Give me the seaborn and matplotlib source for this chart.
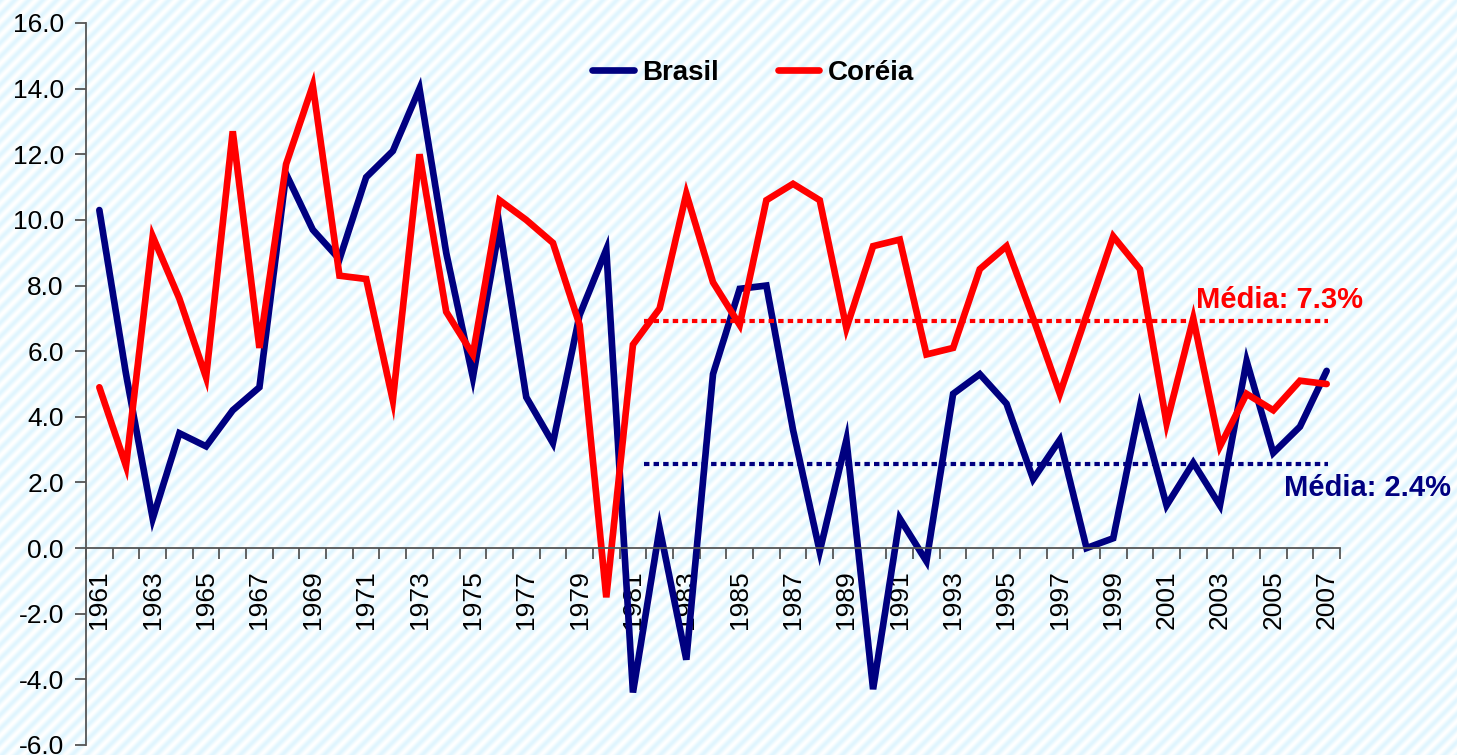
import numpy as np
import pandas as pd
import matplotlib
matplotlib.use('Agg')
import matplotlib.pyplot as plt
import seaborn as sns
from matplotlib.ticker import FixedLocator, FormatStrFormatter

anos = list(range(1961, 2008))
brasil = [10.3, 5.3, 0.9, 3.5, 3.1, 4.2, 4.9, 11.4, 9.7, 8.8, 11.3, 12.1, 14.0, 9.0, 5.2,
          9.8, 4.6, 3.2, 7.1, 9.1, -4.4, 0.6, -3.4, 5.3, 7.9, 8.0, 3.6, -0.1, 3.3, -4.3,
          0.9, -0.4, 4.7, 5.3, 4.4, 2.1, 3.3, 0.0, 0.3, 4.3, 1.3, 2.6, 1.3, 5.7, 2.9, 3.7, 5.4]
coreia = [4.9, 2.5, 9.5, 7.6, 5.2, 12.7, 6.1, 11.7, 14.1, 8.3, 8.2, 4.5, 12.0, 7.2, 5.9,
          10.6, 10.0, 9.3, 6.8, -1.5, 6.2, 7.3, 10.8, 8.1, 6.8, 10.6, 11.1, 10.6, 6.7, 9.2,
          9.4, 5.9, 6.1, 8.5, 9.2, 7.0, 4.7, 7.1, 9.5, 8.5, 3.8, 7.0, 3.1, 4.7, 4.2, 5.1, 5.0]
paises = ['Brasil', 'Coréia']
cores = {'Brasil': '#000080', 'Coréia': '#FF0000'}

# linhas de média (posição desenhada e rótulo)
media_brasil = 2.56
media_coreia = 6.92
rotulo_brasil = 'Média: 2.4%'
rotulo_coreia = 'Média: 7.3%'
media_inicio, media_fim = 1981.4, 2007.05

df = pd.DataFrame({
    'ano': anos * 2,
    'valor': brasil + coreia,
    'pais': ['Brasil'] * len(anos) + ['Coréia'] * len(anos),
})

sns.set_style('white')
plt.rcParams['font.family'] = ['Liberation Sans', 'DejaVu Sans']
plt.rcParams['text.color'] = 'black'
plt.rcParams['xtick.color'] = 'black'
plt.rcParams['ytick.color'] = 'black'

fig = plt.figure(figsize=(14.57, 7.55), dpi=100)

# fundo listrado
bg = fig.add_axes([0, 0, 1, 1], zorder=-10)
h, w = 755, 1457
yy, xx = np.mgrid[0:h, 0:w]
t = 0.5 + 0.5 * np.cos(2 * np.pi * (xx + yy) / 14.0)
c0 = np.array([1.0, 1.0, 1.0])
c1 = np.array([0.88, 0.962, 0.998])
img = c0[None, None, :] * (1 - t[..., None]) + c1[None, None, :] * t[..., None]
bg.imshow(img, aspect='auto', interpolation='bilinear')
bg.axis('off')

ax = fig.add_axes([86 / 1457, 10 / 755, 1254 / 1457, 722 / 755])
ax.set_facecolor('none')

sns.lineplot(data=df, x='ano', y='valor', hue='pais', palette=cores,
             linewidth=4.8, ax=ax, solid_joinstyle='miter')

ax.hlines(media_coreia, media_inicio, media_fim, colors=cores['Coréia'],
          linestyles=(0, (1.3, 1.0)), linewidth=3)
ax.hlines(media_brasil, media_inicio, media_fim, colors=cores['Brasil'],
          linestyles=(0, (1.3, 1.0)), linewidth=3)
ax.text(2002.1, 7.57, rotulo_coreia, color=cores['Coréia'], fontsize=21,
        fontweight='bold', va='center', ha='left')
ax.text(2005.4, 1.84, rotulo_brasil, color=cores['Brasil'], fontsize=21,
        fontweight='bold', va='center', ha='left', clip_on=False)

ax.set_xlim(1960.5, 2007.5)
ax.set_ylim(-6, 16)
ax.set_yticks(np.arange(-6, 17, 2))
ax.yaxis.set_major_formatter(FormatStrFormatter('%.1f'))

ax.set_xticks(anos[::2])
ax.set_xticklabels([str(a) for a in anos[::2]])
ax.xaxis.set_minor_locator(FixedLocator(np.arange(1960.5, 2008, 1)))
ax.tick_params(axis='x', which='major', length=0, pad=16, labelsize=19,
               labelrotation=90, labelcolor='black')
ax.tick_params(axis='x', which='minor', length=8, width=1.3, color='#555555',
               direction='out', bottom=True)
ax.tick_params(axis='y', length=8, width=1.3, color='#555555', direction='out',
               left=True, pad=8, labelsize=19, labelcolor='black')

ax.spines['bottom'].set_position(('data', 0))
for s in ['top', 'right']:
    ax.spines[s].set_visible(False)
for s in ['left', 'bottom']:
    ax.spines[s].set_color('#555555')
    ax.spines[s].set_linewidth(1.3)

ax.set_xlabel('')
ax.set_ylabel('')

handles, labels = ax.get_legend_handles_labels()
leg = ax.legend(handles, labels, loc='center', bbox_to_anchor=(0.532, 0.931),
                ncol=2, frameon=False, prop={'weight': 'bold', 'size': 20},
                handlelength=1.5, handletextpad=0.3, columnspacing=2.1)
for txt in leg.get_texts():
    txt.set_color('black')
for line in leg.get_lines():
    line.set_linewidth(4.8)
    line.set_solid_capstyle('round')

fig.savefig('out.png', dpi=100)
